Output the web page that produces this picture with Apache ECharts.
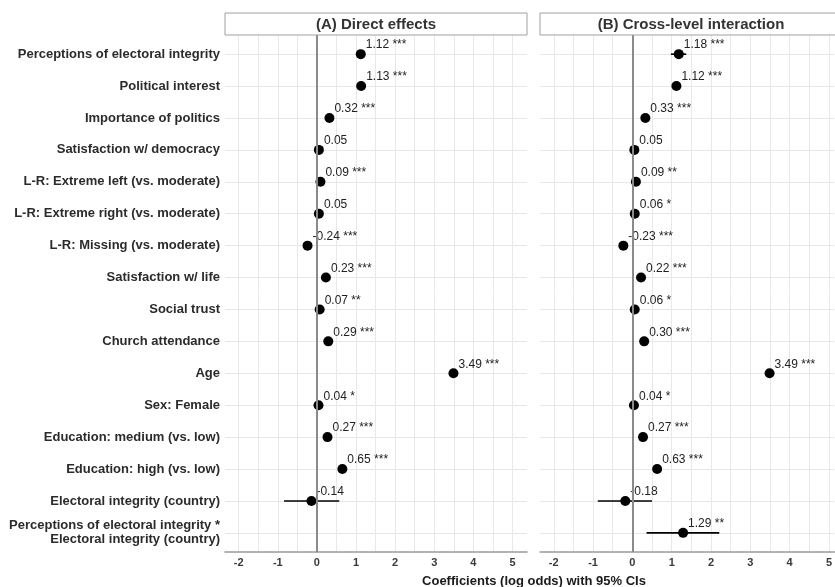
<!DOCTYPE html>
<html>
<head>
<meta charset="utf-8">
<script src="https://cdn.jsdelivr.net/npm/echarts@6/dist/echarts.min.js"></script>
<style>
html,body{margin:0;padding:0;background:#fff;}
#chart{width:835px;height:587px;}
</style>
</head>
<body>
<div id="chart"></div>
<script>
// ---- Data ----
const categories = [
  'Perceptions of electoral integrity',
  'Political interest',
  'Importance of politics',
  'Satisfaction w/ democracy',
  'L-R: Extreme left (vs. moderate)',
  'L-R: Extreme right (vs. moderate)',
  'L-R: Missing (vs. moderate)',
  'Satisfaction w/ life',
  'Social trust',
  'Church attendance',
  'Age',
  'Sex: Female',
  'Education: medium (vs. low)',
  'Education: high (vs. low)',
  'Electoral integrity (country)',
  'Perceptions of electoral integrity *\nElectoral integrity (country)'
];
const panelTitles = ['(A) Direct effects', '(B) Cross-level interaction'];
const xTickLabels = [-2, -1, 0, 1, 2, 3, 4, 5];
const axisTitle = 'Coefficients (log odds) with 95% CIs';

const estA   = [1.12, 1.13, 0.32, 0.05, 0.09, 0.05, -0.24, 0.23, 0.07, 0.29, 3.49, 0.04, 0.27, 0.65, -0.14, null];
const loA    = [1.04, 1.07, 0.27, 0.01, 0.04, 0.00, -0.30, 0.19, 0.03, 0.25, 3.40, 0.01, 0.22, 0.58, -0.84, null];
const hiA    = [1.20, 1.19, 0.37, 0.09, 0.14, 0.10, -0.18, 0.27, 0.11, 0.33, 3.58, 0.07, 0.32, 0.72, 0.57, null];
const starsA = ['***','***','***','','***','','***','***','**','***','***','*','***','***','',''];

const estB   = [1.18, 1.12, 0.33, 0.05, 0.09, 0.06, -0.23, 0.22, 0.06, 0.30, 3.49, 0.04, 0.27, 0.63, -0.18, 1.29];
const loB    = [0.98, 1.06, 0.28, 0.01, 0.03, 0.01, -0.29, 0.18, 0.02, 0.26, 3.40, 0.01, 0.22, 0.56, -0.88, 0.36];
const hiB    = [1.37, 1.18, 0.38, 0.09, 0.15, 0.11, -0.17, 0.26, 0.10, 0.34, 3.58, 0.07, 0.32, 0.70, 0.50, 2.21];
const starsB = ['***','***','***','','**','*','***','***','*','***','***','*','***','***','','**'];

// ---- Build ----
const FONT = '"Liberation Sans", Arial, Helvetica, sans-serif';
const chart = echarts.init(document.getElementById('chart'), null, {renderer: 'canvas'});

function fmt(v){ return v.toFixed(2); }

function ciData(lo, hi){
  const out = [];
  lo.forEach((l, i) => { if (l !== null) out.push([l, hi[i], i + 1]); });
  return out;
}
function ptData(est, stars){
  const out = [];
  est.forEach((v, i) => { if (v !== null) out.push({value: [v, i + 1], lab: fmt(v) + (stars[i] ? ' ' + stars[i] : '')}); });
  return out;
}

function renderCI(params, api){
  const p1 = api.coord([api.value(0), api.value(2)]);
  const p2 = api.coord([api.value(1), api.value(2)]);
  return {type: 'line', shape: {x1: p1[0], y1: p1[1], x2: p2[0], y2: p2[1]},
          style: {stroke: '#000', lineWidth: 1.6}};
}

const gridTop = 35, gridBottom = 35;
function xAxisFor(idx, max){
  return {
    gridIndex: idx, type: 'value', min: -2.35, max: max, splitNumber: 15,
    axisLine: {show: true, onZero: false, lineStyle: {color: '#9a9a9a', width: 1.5}},
    axisTick: {show: false},
    axisLabel: {
      margin: 5, color: '#3a3a3a', fontFamily: FONT, fontWeight: 'bold', fontSize: 11,
      showMinLabel: false, showMaxLabel: false,
      formatter: v => (Math.abs(v - Math.round(v)) < 1e-6 && xTickLabels.indexOf(Math.round(v)) >= 0) ? String(Math.round(v)) : ''
    },
    splitLine: {show: true, showMinLine: false, showMaxLine: false, lineStyle: {color: '#e8e8e8', width: 1}}
  };
}
const yCommon = {
  type: 'value', min: 0.4, max: 16.6, splitNumber: 16, inverse: true,
  axisTick: {show: false},
  splitLine: {show: true, showMinLine: false, showMaxLine: false, lineStyle: {color: '#e8e8e8', width: 1}}
};

const option = {
  backgroundColor: '#ffffff',
  animation: false,
  grid: [
    {left: 225, width: 302, top: gridTop, bottom: gridBottom, containLabel: false},
    {left: 540, right: 0, top: gridTop, bottom: gridBottom, containLabel: false}
  ],
  xAxis: [xAxisFor(0, 5.37), xAxisFor(1, 5.14)],
  yAxis: [
    Object.assign({gridIndex: 0}, yCommon, {
      axisLine: {show: true, lineStyle: {color: '#9a9a9a', width: 1.5}},
      axisLabel: {
        margin: 5, color: '#2b2b2b', fontFamily: FONT, fontWeight: 'bold', fontSize: 13,
        lineHeight: 14, align: 'right',
        showMinLabel: false, showMaxLabel: false,
        formatter: v => {
          const r = Math.round(v);
          if (Math.abs(v - r) > 1e-6 || r < 1 || r > categories.length) return '';
          return categories[r - 1];
        }
      }
    }),
    Object.assign({gridIndex: 1}, yCommon, {
      axisLine: {show: false},
      axisLabel: {show: false}
    })
  ],
  graphic: [
    {type: 'rect', shape: {x: 225, y: 13, width: 302, height: 22}, style: {fill: '#fff', stroke: '#a0a0a0', lineWidth: 1}, z: 10},
    {type: 'text', x: 376, y: 24.5, style: {text: panelTitles[0], fill: '#333', font: 'bold 15px ' + FONT, textAlign: 'center', textVerticalAlign: 'middle'}, z: 11},
    {type: 'rect', shape: {x: 540, y: 13, width: 302, height: 22}, style: {fill: '#fff', stroke: '#a0a0a0', lineWidth: 1}, z: 10},
    {type: 'text', x: 691, y: 24.5, style: {text: panelTitles[1], fill: '#333', font: 'bold 15px ' + FONT, textAlign: 'center', textVerticalAlign: 'middle'}, z: 11},
    {type: 'text', x: 534, y: 581, style: {text: axisTitle, fill: '#1a1a1a', font: 'bold 13px ' + FONT, textAlign: 'center', textVerticalAlign: 'middle'}, z: 11}
  ],
  series: [0, 1].map(k => {
    const lo = k === 0 ? loA : loB, hi = k === 0 ? hiA : hiB;
    return {
      type: 'custom', xAxisIndex: k, yAxisIndex: k, z: 2,
      renderItem: renderCI, data: ciData(lo, hi),
      encode: {x: [0, 1], y: 2}, silent: true,
      markLine: {silent: true, symbol: 'none', animation: false,
        lineStyle: {color: '#8a8a8a', width: 2, type: 'solid'},
        label: {show: false}, data: [{xAxis: 0}]}
    };
  }).concat([0, 1].map(k => {
    const est = k === 0 ? estA : estB, stars = k === 0 ? starsA : starsB;
    return {
      type: 'scatter', xAxisIndex: k, yAxisIndex: k, z: 4,
      symbol: 'circle', symbolSize: 10, silent: true,
      itemStyle: {color: '#000', opacity: 1},
      data: ptData(est, stars),
      label: {show: true, position: 'right', distance: 0, offset: [0, -9],
        color: '#222', fontFamily: FONT, fontSize: 12,
        formatter: p => p.data.lab}
    };
  }))
};
chart.setOption(option);
</script>
</body>
</html>
